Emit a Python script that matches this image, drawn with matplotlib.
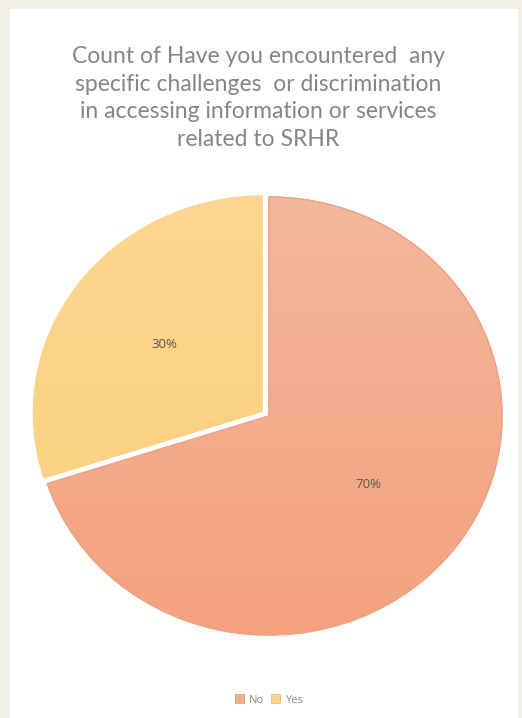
import numpy as np
import matplotlib
matplotlib.use("Agg")
import matplotlib.pyplot as plt
from matplotlib.patches import Rectangle, Patch, Wedge

labels = ["No", "Yes"]
values = [70, 30]
colors = ["#f4ad8b", "#fdd386"]
grad_top = ["#f2b99e", "#fdd692"]
grad_bottom = ["#f5a07c", "#fbcf7a"]

title = ("Count of Have you encountered  any\n"
         "specific challenges  or discrimination\n"
         "in accessing information or services\n"
         "related to SRHR")

W, H = 522, 718
fig = plt.figure(figsize=(W / 100, H / 100), dpi=100)
fig.patch.set_facecolor("#f2efe9")
fig.patches.append(Rectangle((10 / W, 0), (518 - 10) / W, (H - 9) / H,
                             transform=fig.transFigure, facecolor="white",
                             edgecolor="none", zorder=-5))

fig.text(258 / W, 1 - 98 / H, title, ha="center", va="center",
         fontsize=16.5, color="#858585", family="Lato",
         linespacing=1.4)

# pie placement (px): centre and radii of the (slightly stretched) ellipse
cx, cy, rx, ry = 269, 416, 233, 219
lim = 1.1
ax = fig.add_axes([(cx - lim * rx) / W, 1 - (cy + lim * ry) / H,
                   2 * lim * rx / W, 2 * lim * ry / H])
wedges, texts, autotexts = ax.pie(
    values, colors=colors, startangle=90, counterclock=False,
    explode=[0, 0.025], autopct="%1.0f%%", pctdistance=0.53,
    textprops=dict(fontsize=9.5, color="#5a554f", family="Open Sans"))
ax.set_aspect("auto")

# vertical gradient fill clipped to each wedge
for w, c1, c2 in zip(wedges, grad_top, grad_bottom):
    a = np.array(matplotlib.colors.to_rgb(c1))
    b = np.array(matplotlib.colors.to_rgb(c2))
    t = np.linspace(0, 1, 256)[:, None]
    img = (a * (1 - t) + b * t)[:, None, :]
    im = ax.imshow(img, extent=(-1.1, 1.1, -1.1, 1.1), aspect="auto",
                   origin="upper", zorder=1.5)
    im.set_clip_path(w)
wedges[0].set_edgecolor("#eda384")
wedges[0].set_linewidth(1.0)
wedges[1].set_edgecolor("white")
wedges[1].set_linewidth(2.0)
for w in wedges:
    w.set_zorder(1)
for t in autotexts:
    t.set_zorder(5)
ax.set_xlim(-lim, lim)
ax.set_ylim(-lim, lim)
ax.axis("off")

# redraw edges above the gradient
for w in wedges:
    ax.add_patch(Wedge(w.center, w.r, w.theta1, w.theta2,
                       facecolor="none", edgecolor=w.get_edgecolor(),
                       linewidth=w.get_linewidth(), zorder=2))

handles = [Patch(facecolor=c, edgecolor="#d9a080" if i == 0 else "#e8c070",
                 linewidth=0.6) for i, c in enumerate(colors)]
fig.legend(handles=handles, labels=labels, loc="center",
           bbox_to_anchor=(269 / W, 1 - 700 / H), ncol=2, frameon=False,
           labelcolor="#8a8a8a", handlelength=0.8,
           handleheight=0.8, handletextpad=0.45, columnspacing=0.6,
           prop=dict(family="Open Sans", size=8))

fig.savefig("out.png", dpi=100, facecolor=fig.get_facecolor())
